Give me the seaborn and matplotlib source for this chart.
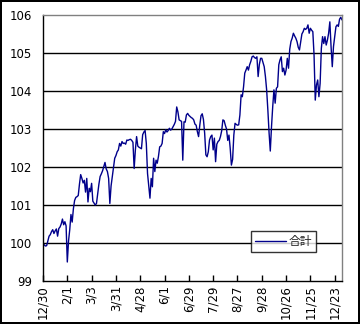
import matplotlib
matplotlib.use("Agg")
import matplotlib.pyplot as plt
import seaborn as sns
import pandas as pd
import numpy as np

values = [
    100.00, 99.95, 99.92, 99.93, 100.05, 100.18, 100.22, 100.30, 100.35, 100.25,
    100.32, 100.37, 100.18, 100.38, 100.42, 100.50, 100.63, 100.48, 100.56, 100.45,
    99.50, 100.05, 100.35, 100.75, 100.55, 100.90, 101.12, 101.20, 101.22, 101.25,
    101.55, 101.80, 101.70, 101.58, 101.65, 101.34, 101.70, 101.08, 101.44, 101.35,
    101.57, 101.10, 101.05, 101.00, 101.04, 101.30, 101.55, 101.75, 101.82, 101.90,
    102.01, 102.12, 101.95, 101.88, 101.70, 101.04, 101.50, 101.75, 102.01, 102.23,
    102.30, 102.40, 102.45, 102.62, 102.55, 102.67, 102.62, 102.63, 102.60, 102.71,
    102.70, 102.72, 102.73, 102.70, 102.65, 101.96, 102.45, 102.80, 102.55, 102.52,
    102.50, 102.48, 102.85, 102.92, 102.96, 102.62, 101.83, 101.50, 101.18, 101.70,
    101.48, 102.23, 101.88, 102.18, 102.10, 102.28, 102.53, 102.55, 102.62, 102.93,
    102.88, 102.98, 102.92, 102.96, 103.02, 102.97, 103.00, 103.06, 103.12, 103.20,
    103.58, 103.45, 103.24, 103.22, 103.20, 102.18, 103.19, 103.18, 103.37, 103.41,
    103.36, 103.33, 103.30, 103.28, 103.24, 103.13, 103.10, 102.93, 102.80, 103.10,
    103.35, 103.40, 103.25, 102.89, 102.32, 102.27, 102.40, 102.71, 102.80, 102.84,
    102.45, 102.76, 102.14, 102.60, 102.67, 102.70, 102.80, 102.95, 103.24, 103.22,
    103.10, 103.00, 102.70, 102.84, 102.50, 102.05, 102.20, 102.84, 103.15, 103.12,
    103.10, 103.11, 103.37, 103.90, 103.85, 104.11, 104.47, 104.55, 104.64, 104.55,
    104.69, 104.78, 104.90, 104.92, 104.88, 104.86, 104.90, 104.38, 104.70, 104.86,
    104.86, 104.75, 104.64, 104.38, 104.03, 103.50, 102.90, 102.42, 103.06, 103.59,
    104.03, 103.68, 104.07, 104.11, 104.69, 104.82, 104.90, 104.51, 104.60, 104.42,
    104.55, 104.86, 104.60, 105.10, 105.30, 105.39, 105.52, 105.45, 105.39, 105.30,
    105.15, 105.08, 105.30, 105.50, 105.56, 105.65, 105.62, 105.65, 105.74, 105.52,
    105.65, 105.60, 105.56, 104.95, 103.76, 104.16, 104.29, 103.85, 104.20, 105.12,
    105.43, 105.25, 105.43, 105.21, 105.34, 105.52, 105.82, 105.17, 104.64, 105.17,
    105.43, 105.69, 105.74, 105.70, 105.89, 105.94, 105.87,
]
tick_labels = ["12/30", "2/1", "3/3", "3/31", "4/28", "6/1", "6/29",
               "7/29", "8/27", "9/28", "10/26", "11/25", "12/23"]
y_ticks = [99, 100, 101, 102, 103, 104, 105, 106]
series_name = "合計"

sns.set_theme(style="white")
plt.rcParams["font.family"] = ["DejaVu Sans", "Noto Sans CJK JP"]

df = pd.DataFrame({"day": np.arange(len(values)), "value": values})

fig = plt.figure(figsize=(3.6, 3.24), dpi=100)
fig.patch.set_facecolor("white")
fig.patch.set_edgecolor("black")
fig.patch.set_linewidth(1.5)
ax = fig.add_axes([43 / 360, 1 - 281 / 324, 299 / 360, 266 / 324])

sns.lineplot(data=df, x="day", y="value", ax=ax, color="#00008b",
             linewidth=1.0, label=series_name)

ax.set_xlim(0, len(values) - 1)
ax.set_ylim(99, 106)
ax.set_yticks(y_ticks)
ax.set_yticklabels([str(t) for t in y_ticks])
pos = list(range(0, 20 * len(tick_labels), 20))
ax.set_xticks(pos)
ax.set_xticklabels(tick_labels, rotation=90)
ax.set_xlabel("")
ax.set_ylabel("")

for y in y_ticks[1:-1]:
    ax.axhline(y, color="black", linewidth=1.0, zorder=0)

for s in ["left", "bottom"]:
    ax.spines[s].set_color("black")
    ax.spines[s].set_linewidth(1.0)
for s in ["top", "right"]:
    ax.spines[s].set_color("#808080")
    ax.spines[s].set_linewidth(1.0)

ax.tick_params(axis="x", direction="in", length=4, width=1, color="black",
               labelsize=8.5, labelcolor="black", pad=3, bottom=True)
ax.tick_params(axis="y", length=0, labelsize=8.5, labelcolor="black", pad=8)

leg = ax.legend(loc="lower left", bbox_to_anchor=(0.696, 0.109),
                frameon=True, fancybox=False, shadow=False, fontsize=8.5,
                handlelength=2.6, borderpad=0.35, handletextpad=0.2,
                borderaxespad=0)
leg.get_frame().set_edgecolor("black")
leg.get_frame().set_linewidth(1.0)
leg.get_frame().set_facecolor("white")

fig.savefig("out.png", dpi=100, facecolor="white", edgecolor="black")
